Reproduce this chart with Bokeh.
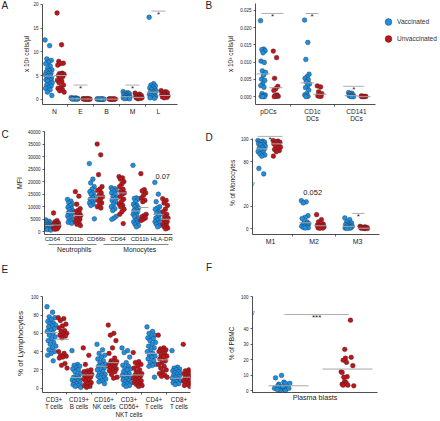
from bokeh.plotting import figure
from bokeh.layouts import row, column
from bokeh.models import (FixedTicker, Legend, LegendItem, LinearAxis, Range1d, Div,
                          PrintfTickFormatter)
from bokeh.core.properties import value
from bokeh.embed import file_html
from bokeh.resources import INLINE

FONT = "Liberation Sans"
BLUE = "#1c8fe3"
RED = "#c0141b"
EDGE = "#2a2a2a"
MED = "#a6a6a6"
INK = "#222222"

# ---------------- data ----------------
A_categories = ["N", "E", "B", "M", "L"]
A_vaccinated = [
    [12.5, 11.3, 8.5, 8.2, 7.8, 7.5, 7.0, 6.5, 6.2, 6.0, 5.8, 5.5, 5.4, 5.2, 5.0, 4.8, 4.5, 4.3, 4.1, 4.0, 3.8, 3.5, 3.2, 3.0, 2.8, 2.5, 2.3, 2.0, 1.5, 0.8],
    [0.35, 0.3, 0.25, 0.2, 0.18, 0.15, 0.12, 0.1, 0.08, 0.06, 0.05, 0.04],
    [0.08, 0.06, 0.05, 0.04, 0.03, 0.03, 0.02, 0.02, 0.01, 0.01],
    [1.6, 1.4, 1.3, 1.2, 1.0, 0.9, 0.8, 0.7, 0.6, 0.5, 0.45, 0.4, 0.3, 0.25, 0.2, 0.15, 0.1],
    [17.3, 3.3, 3.0, 2.8, 2.6, 2.4, 2.2, 2.0, 1.8, 1.6, 1.5, 1.3, 1.2, 1.0, 0.9, 0.8, 0.6, 0.5, 0.3, 0.2],
]
A_unvaccinated = [
    [18.2, 11.5, 8.0, 7.6, 7.5, 7.2, 5.5, 5.4, 5.3, 5.2, 5.0, 4.8, 4.5, 4.0, 3.8, 3.5, 3.0, 2.5, 2.3, 2.0, 1.8, 1.5],
    [0.12, 0.1, 0.08, 0.07, 0.06, 0.05, 0.04, 0.03, 0.02, 0.02],
    [0.1, 0.08, 0.06, 0.05, 0.04, 0.03, 0.02, 0.01],
    [1.3, 1.1, 0.9, 0.8, 0.7, 0.6, 0.5, 0.4, 0.35, 0.3, 0.25, 0.2, 0.1],
    [1.8, 1.6, 1.5, 1.4, 1.2, 1.0, 0.9, 0.8, 0.7, 0.6, 0.5, 0.4, 0.3],
]
A_median_vac = [4.9, 0.12, 0.03, 0.55, 1.5]
A_median_unv = [5.0, 0.05, 0.03, 0.4, 0.8]
A_sig_index = [1, 3, 4]
A_sig_y = [3.0, 3.0, 18.6]
A_yticks = [0, 5, 10, 15, 20]

B_categories = ["pDCs", "CD1c\nDCs", "CD141\nDCs"]
B_vaccinated = [
    [0.022, 0.0138, 0.0136, 0.0133, 0.0127, 0.0103, 0.0099, 0.0075, 0.0070, 0.0062, 0.0051, 0.0047, 0.0037, 0.0032, 0.0027, 0.0009, 0.0005, 0.0003, 0.0001, 0.0, 0.0],
    [0.0222, 0.0157, 0.0108, 0.0065, 0.0058, 0.0053, 0.0049, 0.0043, 0.0037, 0.0031, 0.0026, 0.0019, 0.0009, 0.0005, 0.0001, 0.0],
    [0.0012, 0.0010, 0.0008, 0.0005, 0.0003, 0.0003, 0.0002, 0.0001, 0.0, 0.0],
]
B_unvaccinated = [
    [0.0132, 0.0113, 0.0053, 0.0030, 0.0023, 0.0018, 0.0005, 0.0003, 0.0001, 0.0001, 0.0],
    [0.0031, 0.0028, 0.0014, 0.0009, 0.0005, 0.0003, 0.0001, 0.0001],
    [0.0002, 0.0001, 0.0001, 0.00005, 0.0, 0.0],
]
B_median_vac = [0.0066, 0.0040, 0.0003]
B_median_unv = [0.0026, 0.0007, 0.0]
B_sig_y = [0.0241, 0.0241, 0.0030]
B_yticks = [0, 0.005, 0.01, 0.015, 0.02, 0.025]
B_series = ["Vaccinated", "Unvaccinated"]

C_categories = ["CD64", "CD11b", "CD66b", "CD64", "CD11b", "HLA-DR"]
C_groups = ["Neutrophils", "Monocytes"]
C_vaccinated = [
    [4800, 4200, 3800, 3500, 3100, 2900, 2700, 2500, 2300, 2100, 1900, 1700, 1500, 1300, 1100, 900, 700],
    [12900, 12200, 11500, 11000, 10400, 9800, 9200, 8800, 8300, 7800, 7500, 7200, 6800, 6300, 5800, 5300, 4800, 4300, 3800, 3400],
    [27200, 21000, 19500, 18000, 17000, 16000, 15500, 15000, 14000, 13500, 13000, 12500, 12000, 11500, 11000, 10500, 5200],
    [17600, 17200, 16800, 16500, 16000, 15500, 15000, 14000, 13500, 13000, 12500, 12000, 11000, 10000, 9200, 8500, 6200, 5500, 5000],
    [26500, 13500, 13300, 13000, 12000, 11000, 10500, 10000, 9500, 9000, 8500, 8000, 7500, 7000, 6500, 6000, 5000, 4500, 4000, 3500, 3000, 2500, 2000],
    [19700, 15000, 12000, 10000, 9500, 9000, 8000, 7500, 7000, 6000, 5500, 5000, 4500, 4000, 3500, 3000, 2500, 2000],
]
C_unvaccinated = [
    [7500, 4500, 4000, 3500, 3200, 3000, 2800, 2600, 2400, 2200, 2000, 1800, 1600, 1400, 1200, 1000],
    [16000, 14200, 11000, 9200, 8500, 8000, 7500, 7000, 6500, 6000, 5500, 5000, 4500, 4000, 3500, 3000, 2500],
    [35000, 30700, 22800, 18000, 17000, 16500, 15500, 14500, 14000, 13000, 12500, 11500, 11000, 10000, 9500],
    [22000, 21500, 21000, 20000, 19000, 18000, 17000, 16000, 15500, 15000, 14000, 13000, 12000, 11000, 10500, 10000, 9000, 8000, 7000, 3300],
    [23200, 16800, 16300, 15500, 14500, 13500, 12500, 12000, 7000, 6500, 6000, 5500, 5000, 4500],
    [13200, 12500, 11500, 10500, 9000, 8000, 7000, 6000, 5500, 5000, 4500, 4000, 3500, 3000, 2500, 2000, 1500, 1200],
]
C_median_vac = [2500, 7700, 13200, 13200, 8300, 7000]
C_median_unv = [2700, 6500, 14200, 15500, 9700, 5000]
C_pvalue = "0.07"
C_pvalue_y = 22200
C_yticks = [0, 5000, 10000, 15000, 20000, 25000, 30000, 35000, 40000]

D_categories = ["M1", "M2", "M3"]
D_vaccinated = [
    [99, 98.5, 98, 97.5, 97, 96, 95.5, 95, 94, 93, 92, 91, 90, 89, 88, 87, 86, 85, 74, 69],
    [25, 24, 23, 11.5, 10, 9, 6, 5, 4.5, 4, 3.5, 3, 2.5, 2, 1.5, 1, 0.8, 0.5],
    [9.5, 8, 6, 5, 4, 3.5, 3, 2.5, 2, 1.5, 1.2, 1, 0.8, 0.5, 0.3, 0.1],
]
D_unvaccinated = [
    [99, 98.5, 98, 97.5, 97, 96, 95, 94, 93, 92, 91, 90, 89, 85],
    [12.5, 8, 6, 4, 3.5, 3, 2.5, 2, 1.5, 1, 0.7, 0.5, 0.3],
    [2, 1.5, 1.2, 1, 0.8, 0.5, 0.3, 0.2, 0.1, 0],
]
D_median_vac = [91.5, 5.2, 2.0]
D_median_unv = [96, 2.5, 0.3]
D_sig_y = [102.7, 13.6]
D_pvalue = "0.052"
D_pvalue_y = 32.7
D_yticks = [0, 20, 80, 100]

E_categories = ["CD3+\nT cells", "CD19+\nB cells", "CD16+\nNK cells", "CD3+\nCD56+\nNKT cells", "CD4+\nT cells", "CD8+\nT cells"]
E_vaccinated = [
    [89, 83, 78, 77, 75, 73, 71, 70, 69, 68, 67, 65, 63, 62, 60, 58, 56, 54, 52, 50, 48, 46, 44, 42, 40, 38, 36, 30],
    [41, 26, 25, 24, 22, 21, 20, 18, 16, 14, 12, 11, 10, 9, 8, 7, 6, 5, 4, 3, 2, 1],
    [48, 42, 38, 36, 34, 32, 30, 28, 26, 25, 24, 22, 21, 20, 18, 16, 15, 14, 13, 12, 11, 10, 8, 7, 5],
    [44, 41, 39, 34, 28, 25, 24, 22, 21, 20, 18, 16, 15, 14, 13, 12, 11, 10, 9, 8, 7, 6, 5, 4, 3, 2],
    [67, 62, 60, 58, 56, 55, 54, 52, 50, 48, 46, 44, 42, 40, 38, 36, 35, 34, 32, 30, 28, 26, 25, 24, 12],
    [41, 23, 22, 21, 20, 19, 18, 17, 16, 15, 14, 13, 12, 11, 10, 9, 8, 7, 6, 5, 4],
]
E_unvaccinated = [
    [77, 76, 74, 70, 68, 66, 63, 62, 60, 59, 58, 57, 55, 40, 38, 36, 35, 34, 33, 27, 25, 22],
    [44, 36, 26, 20, 19, 18, 17, 16, 15, 14, 13, 12, 11, 10, 9, 8, 6, 5, 3, 2, 1],
    [69, 60, 58, 52, 44, 38, 33, 30, 29, 28, 27, 26, 25, 24, 23, 22, 21, 20, 19, 18, 15, 12, 11],
    [39, 29, 28, 26, 24, 22, 20, 18, 16, 15, 14, 13, 12, 11, 10, 9, 8, 7, 6, 5, 4, 3, 2],
    [58, 44, 43, 42, 41, 40, 38, 36, 35, 34, 32, 30, 28, 26, 24, 22, 20, 18, 16, 14, 13, 12],
    [48, 20, 19, 18, 17, 16, 15, 14, 13, 12, 11, 10, 9, 8, 7, 6, 5, 4, 3, 2],
]
E_median_vac = [61, 11.7, 24, 14, 38, 11]
E_median_unv = [53.5, 14.5, 28, 14.5, 31, 12]
E_yticks = [0, 20, 40, 60, 80, 100]

F_category = "Plasma blasts"
F_vaccinated = [8.2, 9.8, 4.1, 5.5, 4.7, 4.7, 3.1, 2.1, 1.5, 2.0, 1.1, 0.7, 0.1, 0.1, 0.7, 1.5, 2.6]
F_vaccinated_x = [0.892, 0.985, 0.943, 1.02, 1.046, 1.113, 0.928, 0.969, 0.877, 1.072, 0.995, 1.031, 0.959, 1.046, 0.918, 1.097, 1.005]
F_unvaccinated = [45.4, 26.6, 21.5, 20.9, 19.6, 18.2, 16.1, 12.1, 11.7, 9.0, 8.6, 6.0, 5.0, 4.1, 3.5, 3.5, 3.1]
F_unvaccinated_x = [2.046, 1.958, 2.057, 1.969, 1.934, 1.985, 2.082, 1.903, 1.918, 1.995, 1.943, 1.958, 1.98, 1.918, 2.005, 1.934, 2.097]
F_median = [3.1, 13.9]
F_sig_y = 49.1
F_yticks = [0, 10, 20, 30, 40, 100]

# ---------------- layout helpers ----------------
LETTER_W = 12
W_L, W_R = 193, 222
H1, H2, H3 = 125, 140, 155


def jitter(n, w):
    return [((k * 0.6180339887) % 1.0 - 0.5) * 2 * w for k in range(n)]


def make_fig(W, H, frame, xr, yr):
    fl, fr, ft, fb = frame
    p = figure(width=W, height=H, x_range=Range1d(*xr), y_range=Range1d(*yr), title=None,
               output_backend="svg", toolbar_location=None, margin=0,
               min_border_left=int(round(fl)), min_border_right=int(round(W - fr)),
               min_border_top=int(round(ft)), min_border_bottom=int(round(H - fb)))
    p.outline_line_color = None
    p.xgrid.visible = False
    p.ygrid.visible = False
    p.background_fill_color = "white"
    p.border_fill_color = "white"
    for ax in (p.xaxis[0], p.yaxis[0]):
        ax.axis_line_color = INK
        ax.axis_line_width = 0.8
        ax.major_tick_line_color = INK
        ax.major_tick_line_width = 0.7
        ax.major_tick_in = 0
        ax.major_tick_out = 2
        ax.minor_tick_line_color = INK
        ax.minor_tick_line_width = 0.7
        ax.minor_tick_in = 0
        ax.minor_tick_out = 2
        ax.major_label_text_font = FONT
        ax.axis_label_text_font = FONT
        ax.axis_label_text_font_style = "normal"
        ax.axis_label_text_color = INK
        ax.major_label_text_color = INK
    p.yaxis[0].major_label_text_font_size = "4.5px"
    p.yaxis[0].major_label_standoff = 2
    p.xaxis[0].major_label_standoff = 1
    p.xaxis[0].major_label_text_line_height = 1.1
    return p


def letter(t, H, pad_top, pad_left, lh=12):
    return Div(text=t, width=LETTER_W, height=H, margin=0,
               styles={"font-family": FONT, "font-size": "10px", "line-height": f"{lh}px",
                       "padding-top": f"{pad_top}px", "padding-left": f"{pad_left}px",
                       "color": INK, "box-sizing": "border-box"})


def cat_xaxis(p, labels, size="7px"):
    n = len(labels)
    tk = list(range(1, n + 1))
    p.xaxis[0].ticker = FixedTicker(ticks=tk, minor_ticks=[k + 0.5 for k in range(1, n)])
    p.xaxis[0].major_label_overrides = {t: lab for t, lab in zip(tk, labels)}
    p.xaxis[0].major_tick_out = 0
    p.xaxis[0].minor_tick_out = 2
    p.xaxis[0].major_label_text_font_size = size


def y_ticks(p, ticks, labels=None):
    p.yaxis[0].ticker = FixedTicker(ticks=ticks, minor_ticks=[])
    if labels is not None:
        p.yaxis[0].major_label_overrides = {t: l for t, l in zip(ticks, labels)}


def dots(p, vac, unv, off_v, off_u, jw, med_v, med_u, mhw, tf=lambda v: v, size=4.8):
    xs_v, ys_v, xs_u, ys_u = [], [], [], []
    for i, (gv, gu) in enumerate(zip(vac, unv)):
        for v, j in zip(gv, jitter(len(gv), jw)):
            xs_v.append(i + 1 + off_v + j)
            ys_v.append(tf(v))
        for v, j in zip(gu, jitter(len(gu), jw)):
            xs_u.append(i + 1 + off_u + j)
            ys_u.append(tf(v))
    rv = p.scatter(xs_v, ys_v, size=size, fill_color=BLUE, line_color=EDGE, line_width=0.35)
    ru = p.scatter(xs_u, ys_u, size=size, fill_color=RED, line_color=EDGE, line_width=0.35)
    n = len(vac)
    x0 = [i + 1 + off_v - mhw for i in range(n)] + [i + 1 + off_u - mhw for i in range(n)]
    x1 = [i + 1 + off_v + mhw for i in range(n)] + [i + 1 + off_u + mhw for i in range(n)]
    yy = [tf(v) for v in med_v] + [tf(v) for v in med_u]
    p.segment(x0=x0, y0=yy, x1=x1, y1=yy, line_color=MED, line_width=1.0)
    return rv, ru


def sig(p, xa, xb, ys, texts, size="8px"):
    p.segment(x0=xa, y0=ys, x1=xb, y1=ys, line_color=MED, line_width=0.9)
    p.text(x=[(a + b) / 2 for a, b in zip(xa, xb)], y=ys, text=texts,
           text_font=value(FONT), text_font_size=size, text_align="center",
           text_baseline="alphabetic", y_offset=3, text_color=INK)


def ptext(p, x, y, t, size="7.5px"):
    p.text(x=[x], y=[y], text=[t], text_font=value(FONT), text_font_size=size,
           text_align="center", text_baseline="middle", text_color=INK)


def axis_break(p, x, y):
    p.text(x=[x], y=[y], text=["//"], text_font=value(FONT), text_font_size="5.5px",
           text_align="left", text_baseline="middle", x_offset=-1, text_color=INK)


# ---------------- Panel A ----------------
pA = make_fig(W_L, H1, (30, 165, 1.7, 106.1), (0.54, 5.73), (-1.1, 20.2))
cat_xaxis(pA, A_categories, "6.8px")
y_ticks(pA, A_yticks)
pA.yaxis[0].bounds = (-1.1, 20)
pA.yaxis[0].axis_label = "x 10³ cells/µl"
pA.yaxis[0].axis_label_text_font_size = "6.5px"
pA.yaxis[0].axis_label_standoff = 0
dots(pA, A_vaccinated, A_unvaccinated, -0.22, 0.24, 0.14, A_median_vac, A_median_unv, 0.24)
sig(pA, [A_sig_index[k] + 1 - 0.27 for k in range(3)], [A_sig_index[k] + 1 + 0.27 for k in range(3)],
    A_sig_y, ["*"] * 3)

# ---------------- Panel B ----------------
pB = make_fig(W_R, H1, (38, 222, 3, 106), (0.705, 4.887), (-0.00227, 0.02699))
cat_xaxis(pB, B_categories, "6.5px")
pB.xaxis[0].bounds = (0.705, 3.43)
y_ticks(pB, B_yticks)
pB.yaxis[0].formatter = PrintfTickFormatter(format="%.3f")
pB.yaxis[0].axis_label = "x 10³ cells/µl"
pB.yaxis[0].axis_label_text_font_size = "6.5px"
pB.yaxis[0].axis_label_standoff = 3
rBv, rBu = dots(pB, B_vaccinated, B_unvaccinated, -0.12, 0.17, 0.06, B_median_vac, B_median_unv, 0.15)
sig(pB, [1 - 0.16, 2 - 0.16, 3 - 0.3], [1 + 0.34, 2 + 0.14, 3 + 0.18], B_sig_y, ["*"] * 3)
legend = Legend(items=[LegendItem(label=B_series[0], renderers=[rBv]),
                       LegendItem(label=B_series[1], renderers=[rBu])],
                location=(124, 57.5), glyph_width=18, glyph_height=17, label_height=17,
                spacing=0, padding=0, margin=0, label_standoff=0,
                label_text_font=FONT, label_text_font_size="6.6px", label_text_color="#333333",
                background_fill_alpha=0, border_line_alpha=0)
pB.add_layout(legend)

# ---------------- Panel C ----------------
pC = make_fig(W_L, H2, (31, 160, 5.6, 110), (0.636, 6.5), (-1063, 40000))
cat_xaxis(pC, C_categories, "6px")
pC.xaxis[0].minor_tick_out = 0
y_ticks(pC, C_yticks)
pC.yaxis[0].axis_label = "MFI"
pC.yaxis[0].axis_label_text_font_size = "7px"
pC.yaxis[0].axis_label_standoff = 2
dots(pC, C_vaccinated, C_unvaccinated, -0.18, 0.18, 0.13, C_median_vac, C_median_unv, 0.22)
ptext(pC, 6.05, C_pvalue_y, C_pvalue, "7.5px")
group_axis = LinearAxis(ticker=FixedTicker(ticks=[2, 5], minor_ticks=[]),
                        major_label_overrides={2: C_groups[0], 5: C_groups[1]},
                        bounds=(0.8, 6.3), axis_line_color="#666666", axis_line_width=0.8,
                        axis_line_dash="48 7 66", major_tick_out=0, major_tick_in=0,
                        major_label_standoff=1, major_label_text_font=FONT,
                        major_label_text_font_size="6.8px", major_label_text_color=INK)
pC.add_layout(group_axis, "below")

# ---------------- Panel D ----------------
def tf_D(v):
    return v if v <= 40 else v - 20

pD = make_fig(W_R, H2, (35, 162, 5, 109), (0.586, 3.506), (-5.33, 87.1))
cat_xaxis(pD, D_categories, "7px")
y_ticks(pD, [tf_D(t) for t in D_yticks], [str(t) for t in D_yticks])
pD.yaxis[0].bounds = (-5.33, 81.2)
pD.yaxis[0].axis_label = "% of Monocytes"
pD.yaxis[0].axis_label_text_font_size = "6.5px"
pD.yaxis[0].axis_label_standoff = 2
dots(pD, D_vaccinated, D_unvaccinated, -0.2, 0.15, 0.09, D_median_vac, D_median_unv, 0.14, tf=tf_D)
sig(pD, [0.70, 2.88], [1.28, 3.16], [tf_D(v) for v in D_sig_y], ["*"] * 2)
ptext(pD, 1.97, D_pvalue_y, D_pvalue, "7.5px")
axis_break(pD, 0.586, 40)

# ---------------- Panel E ----------------
pE = make_fig(W_L, H3, (30, 178, 10, 132), (0.54, 6.46), (-4.65, 102.4))
cat_xaxis(pE, E_categories, "6.3px")
pE.xaxis[0].major_label_standoff = 1
y_ticks(pE, E_yticks)
pE.yaxis[0].bounds = (-4.65, 100)
pE.yaxis[0].axis_label = "% of Lymphocytes"
pE.yaxis[0].axis_label_text_font_size = "8px"
pE.yaxis[0].axis_label_standoff = 3
dots(pE, E_vaccinated, E_unvaccinated, -0.1, 0.35, 0.18, E_median_vac, E_median_unv, 0.24)

# ---------------- Panel F ----------------
def tf_F(v):
    return v if v <= 50 else 50 + (v - 50) * 0.214

pF = make_fig(W_R, H3, (35, 160, 29, 132), (0.538, 2.462), (-1.23, 62))
pF.xaxis[0].ticker = FixedTicker(ticks=[], minor_ticks=[])
pF.xaxis[0].axis_label = F_category
pF.xaxis[0].axis_label_text_font_size = "7.2px"
pF.xaxis[0].axis_label_standoff = 0
y_ticks(pF, [tf_F(t) for t in F_yticks], [str(t) for t in F_yticks])
pF.yaxis[0].bounds = (-1.23, tf_F(100))
pF.yaxis[0].axis_label = "% of PBMC"
pF.yaxis[0].axis_label_text_font_size = "6.5px"
pF.yaxis[0].axis_label_standoff = 3
pF.scatter(F_vaccinated_x, [tf_F(v) for v in F_vaccinated], size=4.8, fill_color=BLUE, line_color=EDGE, line_width=0.35)
pF.scatter(F_unvaccinated_x, [tf_F(v) for v in F_unvaccinated], size=4.8, fill_color=RED, line_color=EDGE, line_width=0.35)
pF.segment(x0=[0.785, 1.615], y0=F_median, x1=[1.40, 2.385], y1=F_median, line_color=MED, line_width=1.0)
sig(pF, [1.03], [2.02], [F_sig_y], ["***"])
axis_break(pF, 0.538, 50)

layout = column(
    row(letter("A", H1, 0, 1.5), pA, letter("B", H1, 0, 0.5), pB, margin=0, spacing=0),
    row(letter("C", H2, 4, 1.5), pC, letter("D", H2, 7, 0.5), pD, margin=0, spacing=0),
    row(letter("E", H3, 0, 1.5, 10), pE, letter("F", H3, 0, 1, 5), pF, margin=0, spacing=0),
    margin=0, spacing=0,
)
open("out.html", "w").write(file_html(layout, INLINE))
